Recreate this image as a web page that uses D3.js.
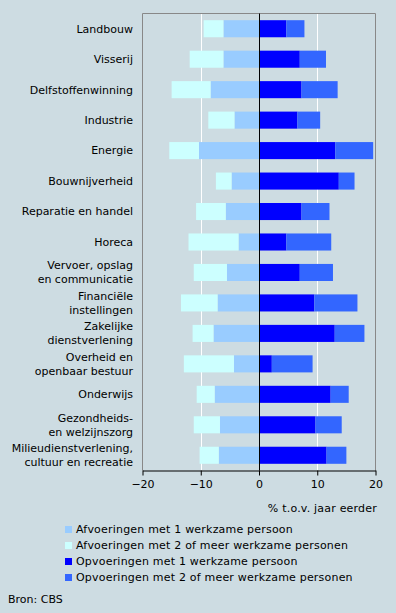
<!DOCTYPE html>
<html><head><meta charset="utf-8">
<script src="https://cdn.jsdelivr.net/npm/d3@7/dist/d3.min.js"></script>
<style>
html,body{margin:0;padding:0;background:#cddce2;}
svg{display:block;font-family:"DejaVu Sans",Verdana,sans-serif;}
</style></head><body>
<script>
const categories = [
  ["Landbouw"],["Visserij"],["Delfstoffenwinning"],["Industrie"],["Energie"],
  ["Bouwnijverheid"],["Reparatie en handel"],["Horeca"],
  ["Vervoer, opslag","en communicatie"],["Financiële","instellingen"],
  ["Zakelijke","dienstverlening"],["Overheid en","openbaar bestuur"],["Onderwijs"],
  ["Gezondheids-","en welzijnszorg"],["Milieudienstverlening,","cultuur en recreatie"]
];
const afv1 = [-6.1,-6.1,-8.3,-4.2,-10.3,-4.7,-5.7,-3.5,-5.5,-7.1,-7.8,-4.3,-7.6,-6.7,-6.9];
const afv2 = [-3.4,-5.8,-6.7,-4.5,-5.1,-2.7,-5.1,-8.6,-5.7,-6.3,-3.6,-8.6,-3.1,-4.5,-3.3];
const op1  = [4.7,7.0,7.3,6.6,13.1,13.7,7.3,4.7,7.0,9.5,13.0,2.2,12.3,9.7,11.6];
const op2  = [3.1,4.5,6.2,3.9,6.5,2.7,4.8,7.7,5.7,7.4,5.1,7.0,3.1,4.5,3.4];
const xTicks = [-20,-10,0,10,20];
const seriesNames = ["Afvoeringen met 1 werkzame persoon","Afvoeringen met 2 of meer werkzame personen","Opvoeringen met 1 werkzame persoon","Opvoeringen met 2 of meer werkzame personen"];
const colors = ["#99ccff","#ccffff","#0000ff","#3366ff"];

const W=396,H=613;
const svg=d3.select("body").append("svg").attr("width",W).attr("height",H);
svg.append("rect").attr("width",W).attr("height",H).attr("fill","#cddce2");
const L=142.5,R=375.5,T=13.5,B=470.5;
const x=d3.scaleLinear().domain([-20,20]).range([L,R]);
const y=d3.scaleBand().domain(d3.range(categories.length)).range([T,B]).paddingInner(0.44).paddingOuter(0.22);

// gridlines
svg.append("g").selectAll("line").data(xTicks.filter(d=>d!==0&&Math.abs(d)!==20)).join("line")
  .attr("x1",d=>Math.round(x(d))+0.5).attr("x2",d=>Math.round(x(d))+0.5).attr("y1",T).attr("y2",B)
  .attr("stroke","#ffffff").attr("stroke-width",1);

// bars
const segs=[];
categories.forEach((c,i)=>{
  segs.push({i,x0:afv1[i],x1:0,s:0});
  segs.push({i,x0:afv1[i]+afv2[i],x1:afv1[i],s:1});
  segs.push({i,x0:0,x1:op1[i],s:2});
  segs.push({i,x0:op1[i],x1:op1[i]+op2[i],s:3});
});
svg.append("g").selectAll("rect").data(segs).join("rect")
  .attr("x",d=>x(d.x0)).attr("width",d=>x(d.x1)-x(d.x0))
  .attr("y",d=>y(d.i)).attr("height",y.bandwidth())
  .attr("fill",d=>colors[d.s]);

// frame
svg.append("path").attr("d",`M${L},${B}V${T}H${R}V${B}`).attr("fill","none").attr("stroke","#888888");
// zero line
svg.append("line").attr("x1",Math.round(x(0))+0.5).attr("x2",Math.round(x(0))+0.5).attr("y1",T).attr("y2",B).attr("stroke","#000");

// x axis
const ax=svg.append("g").attr("transform",`translate(0,${B})`)
  .call(d3.axisBottom(x).tickValues(xTicks).tickSize(5).tickSizeOuter(0).tickFormat(d3.format("d")));
ax.select(".domain").attr("stroke","#000");
ax.selectAll(".tick line").attr("stroke","#000");
ax.selectAll("text").attr("font-size",11).attr("fill","#000").attr("font-family","DejaVu Sans, Verdana, sans-serif").attr("dy","0.9em");

// category labels
const lab=svg.append("g");
categories.forEach((c,i)=>{
  const cy=y(i)+y.bandwidth()/2;
  const n=c.length;
  c.forEach((t,k)=>{
    lab.append("text").attr("x",133).attr("y",cy+(k-(n-1)/2)*14).attr("dy","0.35em")
      .attr("text-anchor","end").attr("font-size",11).attr("fill","#000").text(t);
  });
});

// axis title
svg.append("text").attr("x",377).attr("y",508).attr("dy","0.35em").attr("text-anchor","end")
  .attr("font-size",11).attr("letter-spacing",0.2).attr("fill","#000").text("% t.o.v. jaar eerder");

// legend
const lg=svg.append("g");
seriesNames.forEach((n,k)=>{
  const cy=529.5+k*16;
  lg.append("rect").attr("x",65).attr("y",cy-3.5).attr("width",7).attr("height",7).attr("fill",colors[k]);
  lg.append("text").attr("x",76).attr("y",cy).attr("dy","0.35em").attr("font-size",11).attr("letter-spacing",0.2).attr("fill","#000").text(n);
});

svg.append("text").attr("x",8).attr("y",599).attr("dy","0.35em").attr("font-size",11).attr("fill","#000").text("Bron: CBS");
</script>
</body></html>
